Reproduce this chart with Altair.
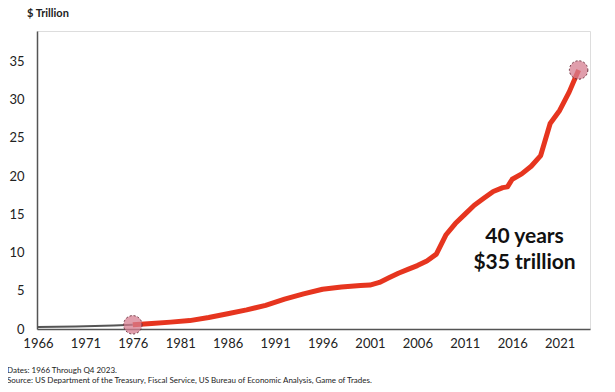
import altair as alt
import pandas as pd

# Pre-1976 segment (grey)
years_pre = [1966, 1968, 1970, 1972, 1974, 1976]
debt_pre = [0.25, 0.30, 0.34, 0.40, 0.46, 0.55]

# 1976 onward (red)
years_main = [1976, 1978, 1980, 1982, 1984, 1986, 1988, 1990, 1992, 1994, 1996, 1998,
              2000, 2001, 2002, 2003, 2004, 2005, 2006, 2007, 2008, 2009, 2010, 2011,
              2012, 2013, 2014, 2015, 2015.5, 2016, 2017, 2018, 2019, 2020, 2021, 2022, 2023]
debt_main = [0.55, 0.72, 0.9, 1.1, 1.5, 2.0, 2.5, 3.1, 3.9, 4.6, 5.2, 5.5,
             5.7, 5.75, 6.1, 6.7, 7.3, 7.8, 8.3, 8.9, 9.8, 12.3, 13.8, 15.0,
             16.2, 17.1, 18.0, 18.5, 18.6, 19.6, 20.3, 21.3, 22.7, 26.9, 28.6, 31.0, 33.9]

marker_years = [1976, 2023]
marker_values = [0.55, 33.9]

note_lines = ["40 years", "$35 trillion"]
note_years = [2017.3, 2017.3]
note_values = [12.1, 8.7]

x_ticks = list(range(1966, 2022, 5))
y_ticks = [0, 5, 10, 15, 20, 25, 30, 35]

FONT = "Lato"

pre = pd.DataFrame({"year": years_pre, "debt": debt_pre})
main = pd.DataFrame({"year": years_main, "debt": debt_main})
markers = pd.DataFrame({"year": marker_years, "debt": marker_values})
notes = pd.DataFrame({"label": note_lines, "year": note_years, "debt": note_values})

xscale = alt.Scale(domain=[1965.9, 2024.2], nice=False, zero=False)
yscale = alt.Scale(domain=[0, 39], nice=False)

x_enc = alt.X("year:Q", scale=xscale,
              axis=alt.Axis(values=x_ticks, format="d", title=None, ticks=False, grid=False,
                            domainColor="#555", domainWidth=1.5, labelFontSize=13,
                            labelColor="#222", labelPadding=8, labelFont=FONT,
                            labelFlush=False, labelOverlap=False))
y_enc = alt.Y("debt:Q", scale=yscale,
              axis=alt.Axis(values=y_ticks, title=None, ticks=False, grid=False,
                            domainColor="#555", domainWidth=1.5, labelFontSize=13,
                            labelColor="#222", labelPadding=13, labelFont=FONT))

pre_line = alt.Chart(pre).mark_line(color="#555", strokeWidth=2).encode(x=x_enc, y=y_enc)
main_line = alt.Chart(main).mark_line(color="#e6351f", strokeWidth=5, strokeJoin="round").encode(
    x="year:Q", y="debt:Q")
dots = alt.Chart(markers).mark_point(shape="circle", size=340, filled=True, fill="#d67d90",
                                     fillOpacity=0.75, stroke="#6a2a38", strokeWidth=1,
                                     strokeDash=[2, 2]).encode(x="year:Q", y="debt:Q")
note_text = alt.Chart(notes).mark_text(font=FONT, fontSize=21, fontWeight="bold",
                                       color="#111", align="center", baseline="middle").encode(
    x="year:Q", y="debt:Q", text="label:N")

title_df = pd.DataFrame({"t": ["$ Trillion"]})
title = alt.Chart(title_df).mark_text(font=FONT, fontSize=11, fontWeight="bold", color="#222",
                                      align="left", baseline="middle").encode(
    x=alt.value(-10), y=alt.value(-17), text="t:N")

foot_df = pd.DataFrame({"t": ["Dates: 1966 Through Q4 2023."]})
foot1 = alt.Chart(foot_df).mark_text(font=FONT, fontSize=8, color="#222", align="left",
                                     baseline="middle").encode(
    x=alt.value(-30), y=alt.value(340), text="t:N")
foot_df2 = pd.DataFrame({"t": ["Source: US Department of the Treasury, Fiscal Service, US Bureau of Economic Analysis, Game of Trades."]})
foot2 = alt.Chart(foot_df2).mark_text(font=FONT, fontSize=8, color="#222", align="left",
                                      baseline="middle").encode(
    x=alt.value(-30), y=alt.value(350), text="t:N")

chart = alt.layer(pre_line, main_line, dots, note_text, title, foot1, foot2).properties(
    width=553, height=298,
    autosize=alt.AutoSizeParams(type="none"),
    padding={"left": 29, "top": 23, "right": 10, "bottom": 55},
).configure_view(stroke=None).configure(background="white")

chart.save("out.html", embed_options={"renderer": "svg", "actions": False})
